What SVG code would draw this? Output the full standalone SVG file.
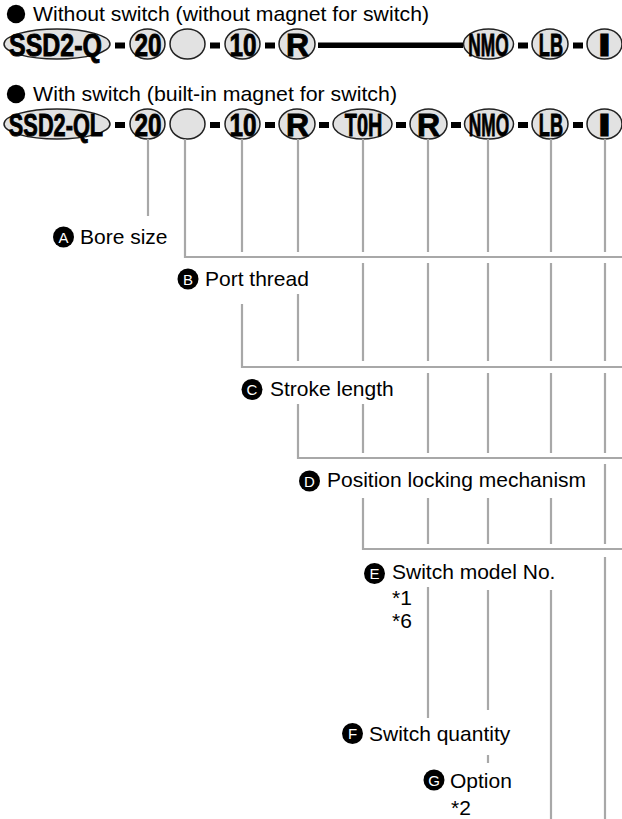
<svg xmlns="http://www.w3.org/2000/svg" width="622" height="819" viewBox="0 0 622 819">
<style>
  .hdr { font-family: "Liberation Sans", Arial, sans-serif; font-size: 21px; fill: #000; }
  .lbl { font-family: "Liberation Sans", Arial, sans-serif; font-size: 21px; fill: #000; }
  .ov { fill: #e2e2e2; stroke: #222; stroke-width: 1.5; }
  .code { font-family: "Liberation Sans", Arial, sans-serif; font-weight: bold; font-size: 32px; fill: #000; stroke: #000; stroke-width: 0.9; text-anchor: middle; }
  .dash { fill: #000; }
  .badge { fill: #000; }
  .bl { font-family: "Liberation Sans", Arial, sans-serif; font-size: 15px; fill: #fff; text-anchor: middle; }
  .gl { stroke: #a8a8a8; stroke-width: 2.2; fill: none; }
</style>

<g id="header1">
  <circle cx="16" cy="14" r="9.2" fill="#000"/>
  <text class="hdr" x="33" y="21" textLength="396" lengthAdjust="spacingAndGlyphs">Without switch (without magnet for switch)</text>
</g>
<g id="header2">
  <circle cx="16" cy="94" r="9.2" fill="#000"/>
  <text class="hdr" x="33" y="101" textLength="364" lengthAdjust="spacingAndGlyphs">With switch (built-in magnet for switch)</text>
</g>

<g id="row1">
  <g id="r1-model"><ellipse class="ov" cx="57" cy="44" rx="53" ry="15"/><text class="code" transform="translate(55.5 55.5) scale(0.78 1)">SSD2-Q</text></g>
  <g id="r1-bore"><ellipse class="ov" cx="147.5" cy="44" rx="17.5" ry="15"/><text class="code" transform="translate(148 55.5) scale(0.76 1)">20</text></g>
  <g id="r1-port"><ellipse class="ov" cx="187.5" cy="44" rx="17.5" ry="15"/></g>
  <g id="r1-stroke"><ellipse class="ov" cx="242.5" cy="44" rx="17.5" ry="15"/><text class="code" transform="translate(243 55.5) scale(0.76 1)">10</text></g>
  <g id="r1-lock"><ellipse class="ov" cx="297" cy="44" rx="18" ry="15"/><text class="code" transform="translate(297.5 55.5) scale(1 1)">R</text></g>
  <g id="r1-opt"><ellipse class="ov" cx="488.5" cy="44" rx="25" ry="15"/><text class="code" transform="translate(488.5 55.5) scale(0.54 1)">NMO</text></g>
  <g id="r1-lb"><ellipse class="ov" cx="550" cy="44" rx="18" ry="15"/><text class="code" transform="translate(551 55.5) scale(0.57 1)">LB</text></g>
  <g id="r1-i"><ellipse class="ov" cx="604.5" cy="44" rx="17.5" ry="15"/><text class="code" transform="translate(604.5 55.5) scale(1.5 1)">I</text></g>
  <g id="r1-dashes">
    <rect class="dash" x="115" y="42.5" width="10" height="6"/>
    <rect class="dash" x="210" y="42.5" width="10" height="6"/>
    <rect class="dash" x="265" y="42.5" width="10" height="6"/>
    <rect class="dash" x="318" y="42.5" width="145" height="5.5"/>
    <rect class="dash" x="518" y="42.5" width="10" height="6"/>
    <rect class="dash" x="573" y="42.5" width="10" height="6"/>
  </g>
</g>

<g id="row2">
  <g id="r2-model"><ellipse class="ov" cx="57" cy="124" rx="53" ry="15"/><text class="code" transform="translate(56 135.5) scale(0.68 1)">SSD2-QL</text></g>
  <g id="r2-bore"><ellipse class="ov" cx="147.5" cy="124" rx="17.5" ry="15"/><text class="code" transform="translate(148 135.5) scale(0.76 1)">20</text></g>
  <g id="r2-port"><ellipse class="ov" cx="187.5" cy="124" rx="17.5" ry="15"/></g>
  <g id="r2-stroke"><ellipse class="ov" cx="242.5" cy="124" rx="17.5" ry="15"/><text class="code" transform="translate(243 135.5) scale(0.76 1)">10</text></g>
  <g id="r2-lock"><ellipse class="ov" cx="297" cy="124" rx="18" ry="15"/><text class="code" transform="translate(297.5 135.5) scale(1 1)">R</text></g>
  <g id="r2-switch"><ellipse class="ov" cx="362.5" cy="124" rx="29.5" ry="15"/><text class="code" transform="translate(363.5 135.5) scale(0.62 1)">T0H</text></g>
  <g id="r2-qty"><ellipse class="ov" cx="428.5" cy="124" rx="18.5" ry="15"/><text class="code" transform="translate(428.5 135.5) scale(1 1)">R</text></g>
  <g id="r2-opt"><ellipse class="ov" cx="489" cy="124" rx="24.5" ry="15"/><text class="code" transform="translate(489 135.5) scale(0.54 1)">NMO</text></g>
  <g id="r2-lb"><ellipse class="ov" cx="550" cy="124" rx="18" ry="15"/><text class="code" transform="translate(551 135.5) scale(0.57 1)">LB</text></g>
  <g id="r2-i"><ellipse class="ov" cx="604.5" cy="124" rx="17.5" ry="15"/><text class="code" transform="translate(604.5 135.5) scale(1.5 1)">I</text></g>
  <g id="r2-dashes">
    <rect class="dash" x="115" y="122" width="10" height="6"/>
    <rect class="dash" x="210" y="122" width="10" height="6"/>
    <rect class="dash" x="265" y="122" width="10" height="6"/>
    <rect class="dash" x="319" y="122" width="10" height="6"/>
    <rect class="dash" x="396" y="122" width="10" height="6"/>
    <rect class="dash" x="451" y="122" width="10" height="6"/>
    <rect class="dash" x="518" y="122" width="10" height="6"/>
    <rect class="dash" x="573" y="122" width="10" height="6"/>
  </g>
</g>

<g id="connectors" class="gl">
  <path d="M148 139V216"/>
  <path d="M185 139V257H622"/>
  <path d="M242 139V252M242 304V367H622"/>
  <path d="M298 139V252M298 294V361M298 404V458H622"/>
  <path d="M363 139V252M363 263V361M363 404V453M363 498V549H622"/>
  <path d="M428 139V252M428 263V361M428 373V453M428 498V544M428 587V718"/>
  <path d="M488 139V252M488 263V361M488 373V453M488 498V544M488 590V710M488 755V763"/>
  <path d="M551 139V252M551 263V361M551 373V453M551 498V544M551 590V819"/>
  <path d="M605 139V252M605 263V361M605 373V453M605 464V544M605 557V819"/>
</g>

<g id="label-a">
  <circle class="badge" cx="63.5" cy="237" r="10.5"/><text class="bl" x="63.5" y="242.5">A</text>
  <text class="lbl" x="80" y="244">Bore size</text>
</g>
<g id="label-b">
  <circle class="badge" cx="188" cy="279" r="10.5"/><text class="bl" x="188" y="284.5">B</text>
  <text class="lbl" x="205" y="286">Port thread</text>
</g>
<g id="label-c">
  <circle class="badge" cx="252" cy="389.5" r="10.5"/><text class="bl" x="252" y="395">C</text>
  <text class="lbl" x="270" y="395.5">Stroke length</text>
</g>
<g id="label-d">
  <circle class="badge" cx="309.5" cy="481" r="10.5"/><text class="bl" x="309.5" y="486.5">D</text>
  <text class="lbl" x="327" y="487">Position locking mechanism</text>
</g>
<g id="label-e">
  <circle class="badge" cx="374.5" cy="573.5" r="10.5"/><text class="bl" x="374.5" y="579">E</text>
  <text class="lbl" x="392" y="579">Switch model No.</text>
  <text class="lbl" x="392" y="605">*1</text>
  <text class="lbl" x="392" y="628">*6</text>
</g>
<g id="label-f">
  <circle class="badge" cx="352.5" cy="733.5" r="10.5"/><text class="bl" x="352.5" y="739">F</text>
  <text class="lbl" x="369" y="741">Switch quantity</text>
</g>
<g id="label-g">
  <circle class="badge" cx="434" cy="780" r="10.5"/><text class="bl" x="434" y="785.5">G</text>
  <text class="lbl" x="450" y="788">Option</text>
  <text class="lbl" x="451" y="815">*2</text>
</g>
</svg>
